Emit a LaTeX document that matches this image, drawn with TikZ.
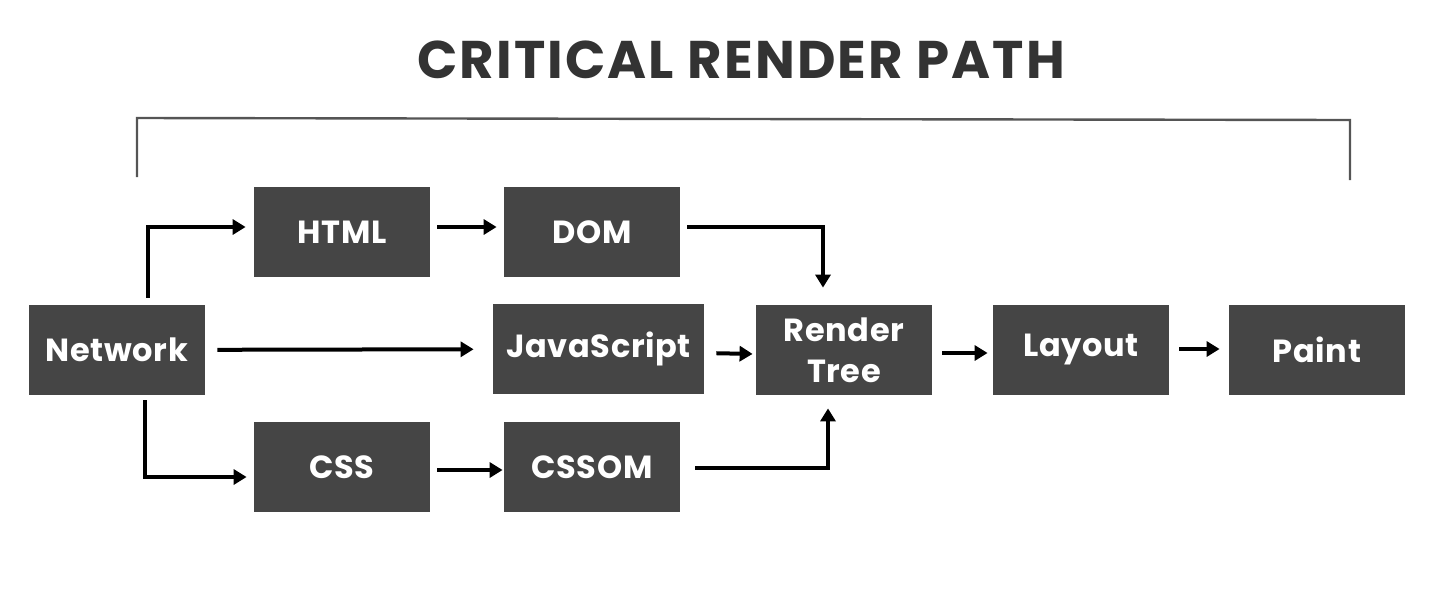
\documentclass[tikz,border=0pt]{standalone}
\usepackage{fontspec}
\setmainfont{Poppins}
\usetikzlibrary{arrows.meta}
\definecolor{boxgray}{HTML}{454545}
\definecolor{titlegray}{HTML}{333333}
\definecolor{brackgray}{HTML}{555555}
\begin{document}
\begin{tikzpicture}[x=0.5pt,y=-0.5pt,
  box/.style={fill=boxgray, text=white, minimum width=88pt, minimum height=45pt, inner sep=0pt,
    font=\bfseries\fontsize{16}{20.5}\selectfont\addfontfeatures{LetterSpace=2}, align=center},
  arr/.style={line width=2pt, -{Triangle[length=6.5pt,width=7.5pt]}},
  brack/.style={brackgray, line width=1.2pt}]
\useasboundingbox (0,0) rectangle (1456,606);
\node[font=\bfseries\fontsize{26.5}{30}\selectfont\addfontfeatures{LetterSpace=4}, text=titlegray] (title) at (741,60) {CRITICAL RENDER PATH};
\coordinate (bl) at (137,177);
\coordinate (tl) at (137,118);
\coordinate (tr) at (1350,120);
\coordinate (br) at (1350,180);
\draw[brack] (bl) -- (tl) -- (tr) -- (br);
\node[box] (net) at (117,350) {Network};
\node[box] (html) at (342,232) {HTML};
\node[box] (dom) at (592,232) {DOM};
\node[box, minimum width=105.5pt] (js) at (598.5,349) {JavaScript};
\node[box] (rt) at (844,350) {Render\\Tree};
\node[box] (lay) at (1081,350) {Layout};
\node[box] (paint) at (1317,350) {Paint};
\node[box] (css) at (342,467) {CSS};
\node[box] (cssom) at (592,467) {CSSOM};
\draw[arr, shorten <=3.5pt, shorten >=4pt] ([xshift=59.5pt]net.north west) |- ([yshift=2.5pt]html.west);
\draw[arr, shorten <=3.5pt, shorten >=3.5pt] ([yshift=2.5pt]html.east) -- ([yshift=2.5pt]dom.west);
\draw[arr, shorten <=3.5pt, shorten >=8.5pt] ([yshift=2.5pt]dom.east) -| ([xshift=-10.5pt]rt.north);
\draw[arr, shorten <=6pt, shorten >=9.5pt] (net) -- (js);
\draw[arr, shorten <=6pt, shorten >=1.5pt] ([yshift=-2pt]js.east) -- ([yshift=-2pt]rt.west);
\draw[arr, shorten <=7.5pt, shorten >=6.5pt] ([yshift=-0.5pt]cssom.east) -| ([xshift=-8pt]rt.south);
\draw[arr, shorten <=2.5pt, shorten >=3.5pt] ([xshift=58pt]net.south west) |- ([yshift=-5pt]css.west);
\draw[arr, shorten <=3.5pt, shorten >=0.5pt] ([yshift=-1.5pt]css.east) -- ([yshift=-1.5pt]cssom.west);
\draw[arr, shorten <=5pt, shorten >=2.5pt] ([yshift=-1.5pt]rt.east) -- ([yshift=-1.5pt]lay.west);
\draw[arr, shorten <=5pt, shorten >=4.5pt] ([yshift=0.5pt]lay.east) -- ([yshift=0.5pt]paint.west);
\end{tikzpicture}
\end{document}
